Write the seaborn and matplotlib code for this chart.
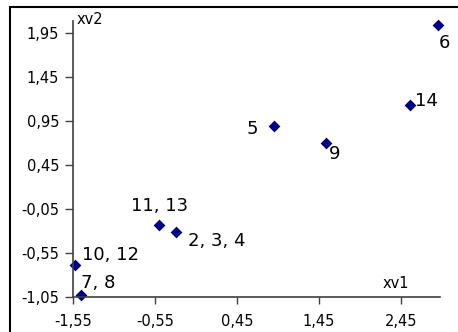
import numpy as np
import pandas as pd
import seaborn as sns
import matplotlib.pyplot as plt
from matplotlib.patches import Rectangle

# values
xv1 = [2.91, 2.56, 0.90, 1.54, -0.50, -0.29, -1.53, -1.45]
xv2 = [2.05, 1.14, 0.90, 0.70, -0.23, -0.31, -0.69, -1.03]
names = ['6', '14', '5', '9', '11, 13', '2, 3, 4', '10, 12', '7, 8']
xticks = [-1.55, -0.55, 0.45, 1.45, 2.45]
yticks = [-1.05, -0.55, -0.05, 0.45, 0.95, 1.45, 1.95]

df = pd.DataFrame({'xv1': xv1, 'xv2': xv2, 'name': names})

sns.set_style('white')
plt.rcParams['font.family'] = ['DejaVu Sans']

fig = plt.figure(figsize=(4.58, 3.32), dpi=100)
ax = fig.add_axes([73 / 458, 35 / 332, 367 / 458, 276 / 332])

sns.scatterplot(data=df, x='xv1', y='xv2', marker='D', s=36, color='#000080',
                edgecolor='#000080', linewidth=0, ax=ax, clip_on=False)

ax.set_xlim(-1.55, 2.93)
ax.set_ylim(-1.05, 2.09)
ax.set_xticks(xticks)
ax.set_yticks(yticks)
ax.set_xticklabels([f'{t:.2f}'.replace('.', ',') for t in xticks], fontsize=10.5)
ax.set_yticklabels([f'{t:.2f}'.replace('.', ',') for t in yticks], fontsize=10.5)
ax.tick_params(axis='x', direction='out', length=5, width=1, color='#404040',
               labelcolor='black', pad=7, bottom=True)
ax.tick_params(axis='y', direction='out', length=6, width=1, color='#404040',
               labelcolor='black', pad=4, left=True)
ax.set_xlabel('')
ax.set_ylabel('')
for s in ['top', 'right']:
    ax.spines[s].set_visible(False)
for s in ['left', 'bottom']:
    ax.spines[s].set_color('#404040')
    ax.spines[s].set_linewidth(1.2)

# label offsets in pixels (dx, dy, ha, va)
offs = {
    '6': (6, -18, 'center', 'center'),
    '14': (5, 4, 'left', 'center'),
    '5': (-16, -3, 'right', 'center'),
    '9': (3, -11, 'left', 'center'),
    '11, 13': (1, 19, 'center', 'center'),
    '2, 3, 4': (12, -9, 'left', 'center'),
    '10, 12': (7, 10, 'left', 'center'),
    '7, 8': (0, 12, 'left', 'center'),
}
for x, y, n in zip(xv1, xv2, names):
    dx, dy, ha, va = offs[n]
    ax.annotate(n, (x, y), xytext=(dx * 0.72, dy * 0.72), textcoords='offset points',
                ha=ha, va=va, fontsize=13, color='black')

fig.text(77 / 458, 1 - 20 / 332, 'xv2', fontsize=10.5, ha='left', va='center', color='black')
fig.text(396 / 458, 1 - 283 / 332, 'xv1', fontsize=10.5, ha='center', va='center', color='black')

fig.patches.append(Rectangle((10 / 458, -0.1), 1.2, 1.1 - 7 / 332, transform=fig.transFigure,
                             fill=False, edgecolor='black', linewidth=1.5))

fig.savefig('out.png', dpi=100)
